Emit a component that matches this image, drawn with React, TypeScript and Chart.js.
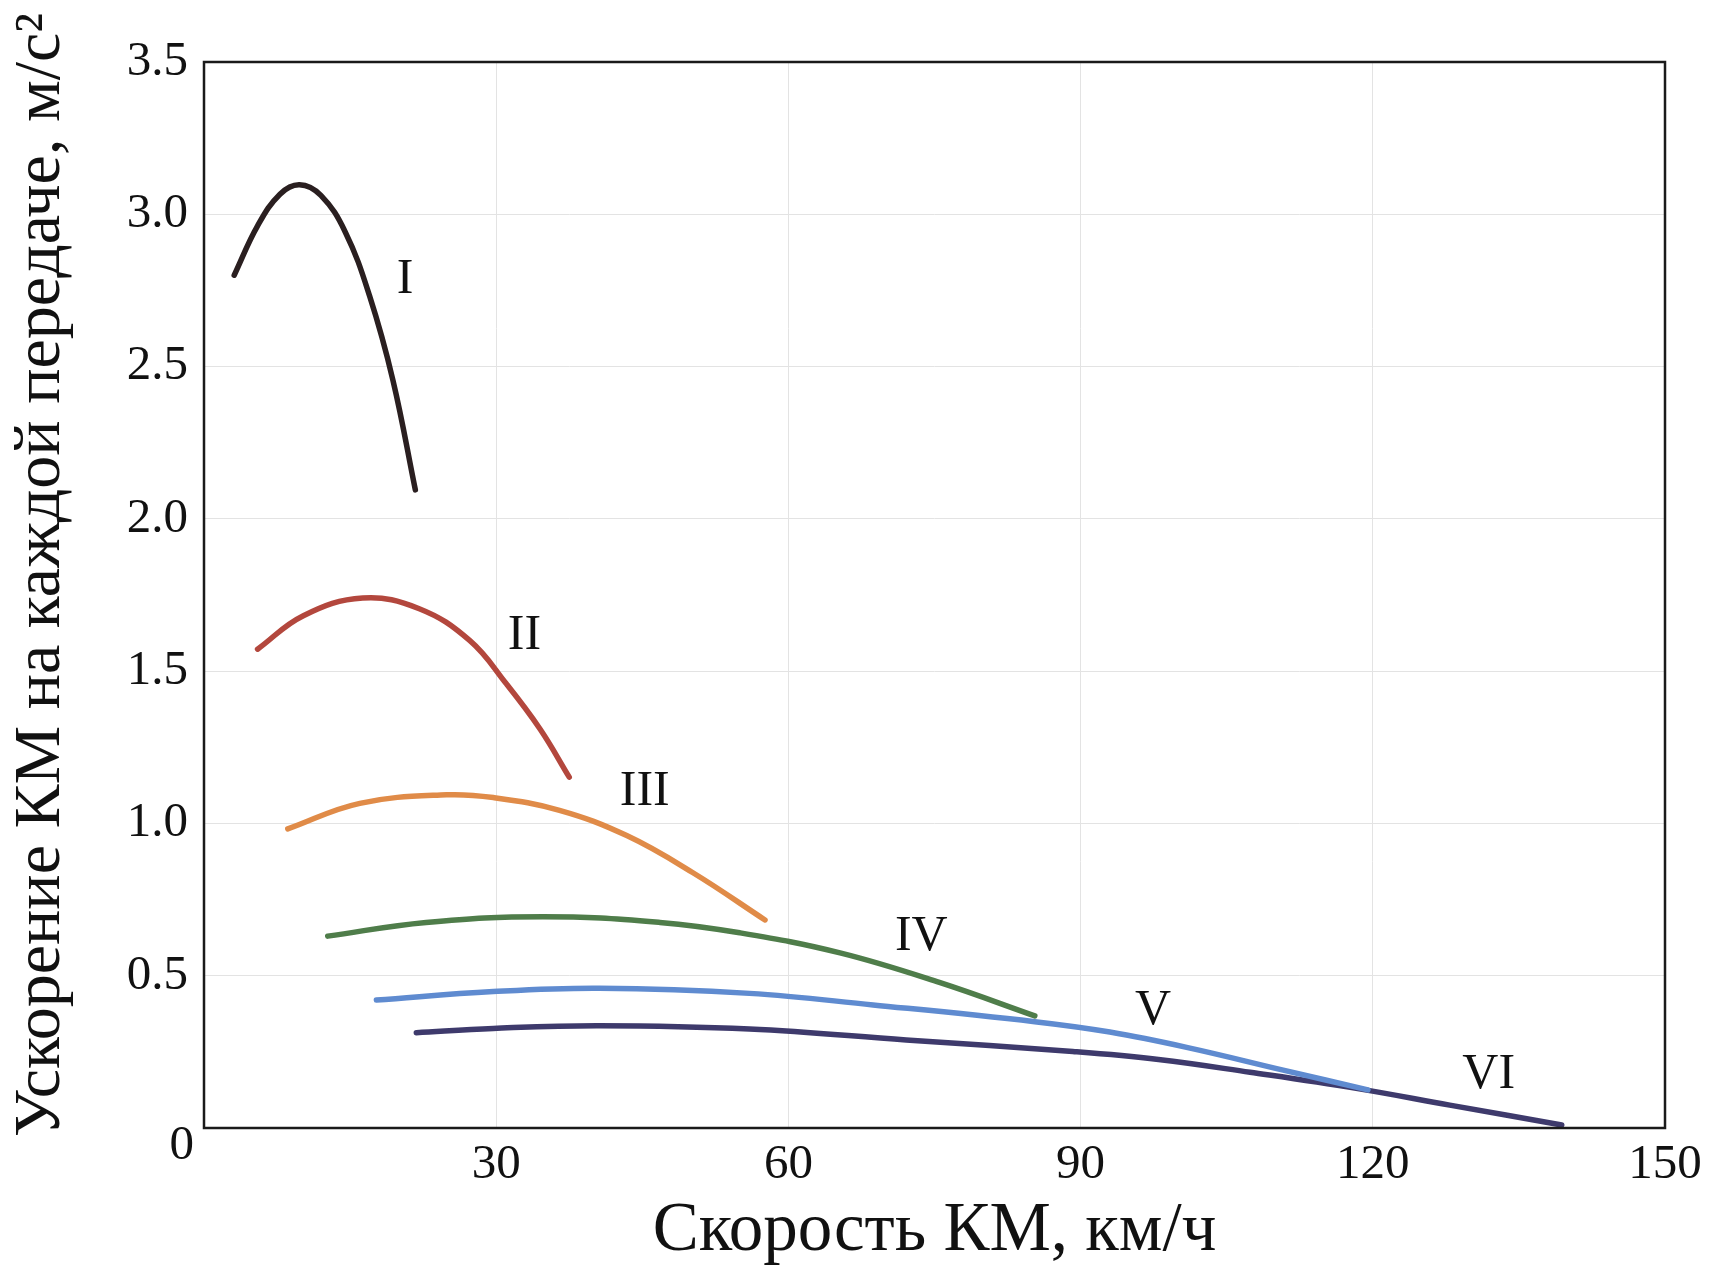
import React, { useEffect, useRef } from "react";
import { Chart, registerables } from "chart.js";

Chart.register(...registerables);

// ---- Data (speed km/h, acceleration m/s²) ----
const speedI = [3.1, 5.5, 7.8, 9.8, 12.0, 14.5, 17.0, 19.4, 21.7];
const accelI = [2.8, 2.962, 3.066, 3.097, 3.062, 2.942, 2.732, 2.455, 2.095];

const speedII = [5.5, 10.2, 16.3, 22.1, 27.3, 31.0, 34.5, 37.5];
const accelII = [1.572, 1.682, 1.74, 1.705, 1.6, 1.46, 1.31, 1.152];

const speedIII = [8.6, 16.0, 24.9, 29.7, 36.5, 43.4, 50.2, 57.6];
const accelIII = [0.982, 1.066, 1.094, 1.085, 1.043, 0.96, 0.838, 0.683];

const speedIV = [12.7, 22.8, 34.8, 46.8, 55.0, 65.3, 75.5, 85.3];
const accelIV = [0.63, 0.675, 0.694, 0.675, 0.641, 0.575, 0.478, 0.368];

const speedV = [17.7, 29.7, 40.6, 56.0, 68.7, 85.3, 93.0, 101.0, 110.8, 119.5];
const accelV = [0.42, 0.448, 0.459, 0.442, 0.404, 0.349, 0.315, 0.264, 0.19, 0.125];

const speedVI = [21.8, 29.7, 40.6, 56.0, 72.1, 89.2, 98.0, 107.4, 118.3, 127.9, 139.4];
const accelVI = [0.313, 0.327, 0.336, 0.325, 0.289, 0.251, 0.225, 0.183, 0.13, 0.075, 0.01];

const gearNames = ["I", "II", "III", "IV", "V", "VI"];
const gearColors = ["#2a1f20", "#b3473d", "#e08b48", "#4f7d4a", "#5f8bd0", "#3e3a6c"];
const labelSpeed = [20.65, 32.9, 45.25, 73.65, 97.45, 131.9];
const labelAccel = [2.786, 1.615, 1.102, 0.628, 0.384, 0.176];

const xTickValues = [0, 30, 60, 90, 120, 150];
const yTickValues = [0, 0.5, 1.0, 1.5, 2.0, 2.5, 3.0, 3.5];

const xTitle = "Скорость КМ, км/ч";
const yTitle = "Ускорение КМ на каждой передаче, м/с²";

const FONT = "'Liberation Serif', 'Times New Roman', serif";

export default function App() {
  const ref = useRef<HTMLCanvasElement | null>(null);

  useEffect(() => {
    if (!ref.current) return;
    const speeds = [speedI, speedII, speedIII, speedIV, speedV, speedVI];
    const accels = [accelI, accelII, accelIII, accelIV, accelV, accelVI];
    const datasets = speeds.map((sp, i) => ({
      label: gearNames[i],
      data: sp.map((x, j) => ({ x, y: accels[i][j] })),
      borderColor: gearColors[i],
      backgroundColor: gearColors[i],
      borderWidth: 5.5,
      pointRadius: 0,
      showLine: true,
      tension: 0.4,
      borderCapStyle: "round" as const,
      fill: false,
    }));

    const decor = {
      id: "decor",
      afterDatasetsDraw(chart: any) {
        const { ctx, chartArea, scales } = chart;
        ctx.save();
        // frame
        ctx.strokeStyle = "#1a1a1a";
        ctx.lineWidth = 2.5;
        ctx.strokeRect(chartArea.left, chartArea.top, chartArea.right - chartArea.left, chartArea.bottom - chartArea.top);
        // gear labels
        ctx.fillStyle = "#111";
        ctx.font = `50px ${FONT}`;
        ctx.textAlign = "center";
        ctx.textBaseline = "middle";
        gearNames.forEach((n, i) => {
          ctx.fillText(n, scales.x.getPixelForValue(labelSpeed[i]), scales.y.getPixelForValue(labelAccel[i]));
        });
        // origin label
        ctx.font = `49px ${FONT}`;
        ctx.textAlign = "right";
        ctx.fillText("0", chartArea.left - 10, scales.y.getPixelForValue(0) + 18);
        // y-axis title
        ctx.font = `66px ${FONT}`;
        ctx.textAlign = "center";
        ctx.textBaseline = "middle";
        ctx.translate(42, (chartArea.top + chartArea.bottom) / 2 - 20);
        ctx.rotate(-Math.PI / 2);
        ctx.fillText(yTitle, 0, 0);
        ctx.restore();
      },
    };

    const chart = new Chart(ref.current, {
      type: "scatter",
      data: { datasets },
      plugins: [decor],
      options: {
        animation: false,
        responsive: true,
        maintainAspectRatio: false,
        layout: { padding: { left: 0, top: 62, right: 49, bottom: 0 } },
        plugins: { legend: { display: false }, tooltip: { enabled: false } },
        scales: {
          x: {
            type: "linear",
            min: 0,
            max: 150,
            afterBuildTicks: (scale: any) => {
              scale.ticks = xTickValues.map((v) => ({ value: v }));
            },
            afterFit: (scale: any) => {
              scale.height = 141;
            },
            ticks: {
              color: "#111",
              font: { family: FONT, size: 49 },
              padding: 8,
              maxRotation: 0,
              callback: (v: any) => (Number(v) === 0 ? "" : String(v)),
            },
            grid: { color: "#e3e3e3", lineWidth: 1, drawTicks: false },
            border: { display: false },
            title: {
              display: true,
              text: xTitle,
              color: "#111",
              font: { family: FONT, size: 69, lineHeight: 1 },
              padding: { top: 0, bottom: 3 },
            },
          },
          y: {
            type: "linear",
            min: 0,
            max: 3.5,
            afterBuildTicks: (scale: any) => {
              scale.ticks = yTickValues.map((v) => ({ value: v }));
            },
            afterFit: (scale: any) => {
              scale.width = 204;
            },
            ticks: {
              color: "#111",
              font: { family: FONT, size: 49 },
              padding: 16,
              callback: (v: any) => (Number(v) === 0 ? "" : Number(v).toFixed(1)),
            },
            grid: { color: "#e3e3e3", lineWidth: 1, drawTicks: false },
            border: { display: false },
            title: { display: false },
          },
        },
      },
    } as any);
    return () => chart.destroy();
  }, []);

  return (
    <div style={{ position: "absolute", left: 0, top: 0, width: 1714, height: 1269, background: "#fff" }}>
      <canvas ref={ref} />
    </div>
  );
}
